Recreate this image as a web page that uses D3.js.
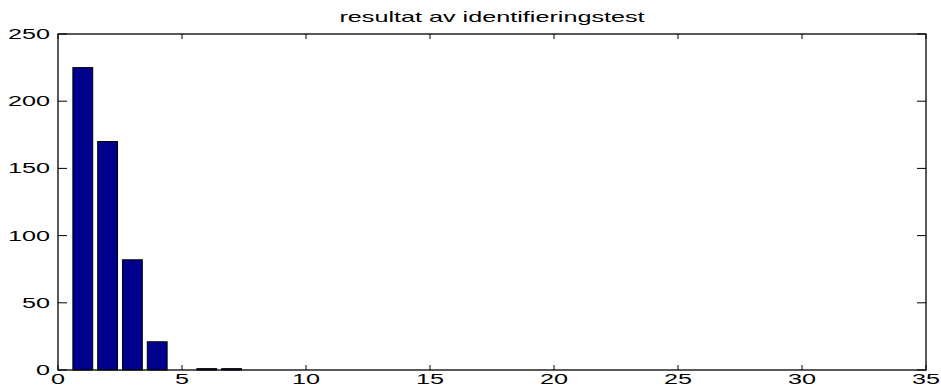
<!DOCTYPE html>
<html><head><meta charset="utf-8">
<script src="https://cdn.jsdelivr.net/npm/d3@7"></script>
<style>body{margin:0;background:#fff}svg{display:block}text{font-family:"Liberation Sans",Arial,sans-serif}</style>
</head><body><svg id="c" width="941" height="387"></svg>
<script>
const title = "resultat av identifieringstest";
const categories = d3.range(1, 31);
const values = [225, 170, 82, 21, 0, 1, 1, 0, 0, 0, 0, 0, 0, 0, 0, 0, 0, 0, 0, 0, 0, 0, 0, 0, 0, 0, 0, 0, 0, 0];
const xTicks = [0, 5, 10, 15, 20, 25, 30, 35];
const yTicks = [0, 50, 100, 150, 200, 250];

const W = 941, H = 387;
const m = {l: 58, r: 15, t: 34, b: 17};
const sx = 1.8; // horizontal text stretch
const svg = d3.select("#c");
const x = d3.scaleLinear().domain([0, 35]).range([m.l, W - m.r]);
const y = d3.scaleLinear().domain([0, 250]).range([H - m.b, m.t]);
const barW = 0.8;

// bars
svg.append("g").selectAll("rect").data(categories.map((c, i) => ({c, v: values[i]})))
  .join("rect")
  .attr("x", d => x(d.c - barW / 2))
  .attr("width", d => x(d.c + barW / 2) - x(d.c - barW / 2))
  .attr("y", d => y(d.v))
  .attr("height", d => y(0) - y(d.v))
  .attr("fill", "#00008F").attr("stroke", "#000").attr("stroke-width", 1);

// box
svg.append("rect").attr("x", x(0)).attr("y", y(250)).attr("width", x(35) - x(0)).attr("height", y(0) - y(250))
  .attr("fill", "none").attr("stroke", "#000").attr("stroke-width", 1.3);

const stretched = (g, tx, ty, txt, anchor) => g.append("text")
  .attr("transform", `translate(${tx},${ty}) scale(${sx},1)`)
  .attr("text-anchor", anchor).attr("font-size", 14).attr("fill", "#000").text(txt);

// x ticks
const gx = svg.append("g");
xTicks.forEach(t => {
  gx.append("line").attr("x1", x(t)).attr("x2", x(t)).attr("y1", y(0)).attr("y2", y(0) - 5).attr("stroke", "#000");
  gx.append("line").attr("x1", x(t)).attr("x2", x(t)).attr("y1", y(250)).attr("y2", y(250) + 5).attr("stroke", "#000");
  stretched(gx, x(t), 384, d3.format("d")(t), "middle");
});
// y ticks
const gy = svg.append("g");
yTicks.forEach(t => {
  gy.append("line").attr("x1", x(0)).attr("x2", x(0) + 9).attr("y1", y(t)).attr("y2", y(t)).attr("stroke", "#000");
  gy.append("line").attr("x1", x(35)).attr("x2", x(35) - 9).attr("y1", y(t)).attr("y2", y(t)).attr("stroke", "#000");
  stretched(gy, 50, y(t) + 5, d3.format("d")(t), "end");
});
// title
stretched(svg, (x(0) + x(35)) / 2, 22, title, "middle");
</script></body></html>
